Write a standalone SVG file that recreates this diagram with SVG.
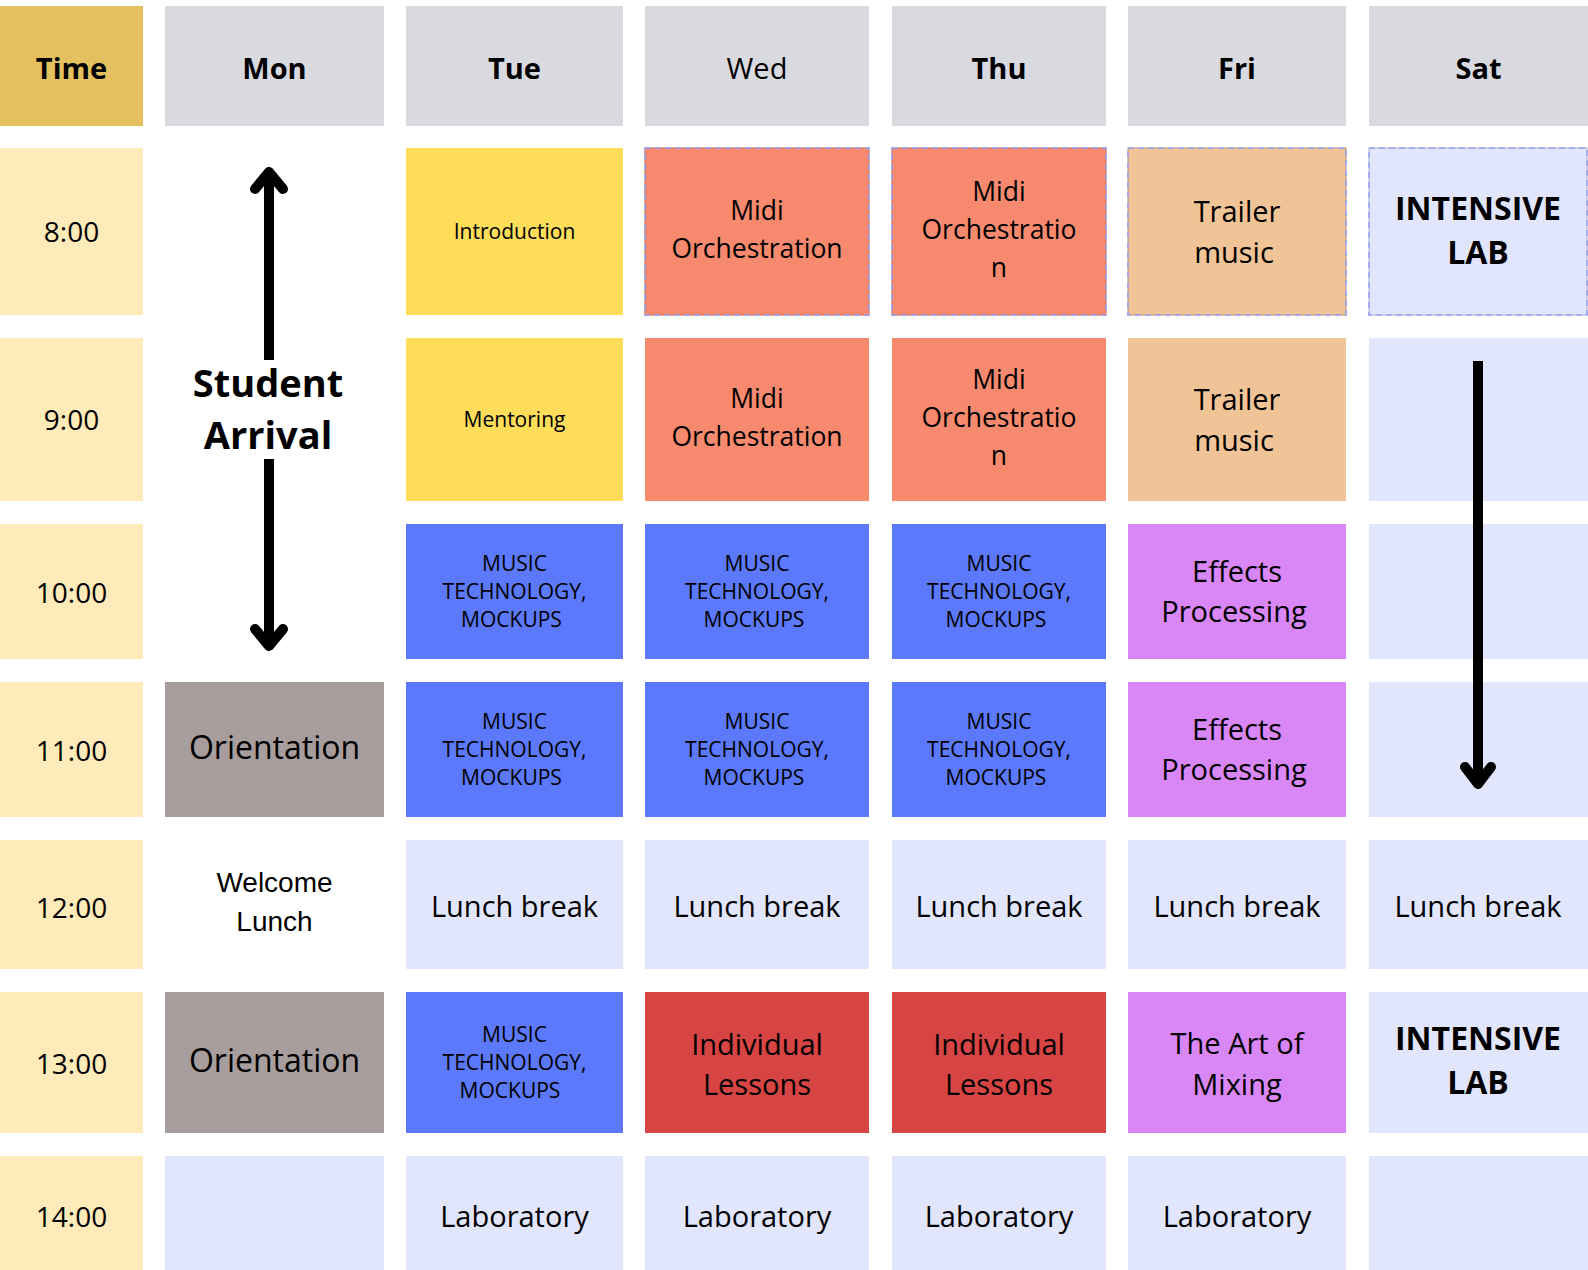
<svg xmlns="http://www.w3.org/2000/svg" width="1588" height="1270" viewBox="0 0 1588 1270">
<style>
text{font-family:"Open Sans","Noto Sans","DejaVu Sans",sans-serif;fill:#000;text-anchor:middle}
.h{font-size:29px;font-weight:700}
.hr{font-size:29px;font-weight:400}
.t{font-size:28px}
.s{font-size:21px}
.m{font-size:26.5px}
.l{font-size:29px}
.o{font-size:32px}
.b{font-size:32px;font-weight:700}
.sa{font-size:38px;font-weight:700}
.wl{font-family:"Liberation Sans",Arial,sans-serif;font-size:28px}
.thd{fill:#E4C15E}
.dhd{fill:#D9DAE0}
.tim{fill:#FFEBB9}
.yel{fill:#FFDD59}
.sal{fill:#F78A6E}
.tra{fill:#F0C496}
.lav{fill:#E1E6FD}
.blu{fill:#5B79FA}
.pur{fill:#D987F7}
.gry{fill:#A79D9C}
.red{fill:#D74444}
.dash{fill:none;stroke:#98A4F8;stroke-width:1.6;stroke-dasharray:6 4}
.arr{fill:none;stroke:#000;stroke-width:10}
</style>

<!-- header row -->
<g id="h-time"><rect class="thd" x="0" y="6" width="143" height="120"/><text class="h" x="71.5" y="79">Time</text></g>
<g id="h-mon"><rect class="dhd" x="165" y="6" width="219" height="120"/><text class="h" x="274.5" y="79">Mon</text></g>
<g id="h-tue"><rect class="dhd" x="406" y="6" width="217" height="120"/><text class="h" x="514.5" y="79">Tue</text></g>
<g id="h-wed"><rect class="dhd" x="645" y="6" width="224" height="120"/><text class="hr" x="757" y="79">Wed</text></g>
<g id="h-thu"><rect class="dhd" x="892" y="6" width="214" height="120"/><text class="h" x="999" y="79">Thu</text></g>
<g id="h-fri"><rect class="dhd" x="1128" y="6" width="218" height="120"/><text class="h" x="1237" y="79">Fri</text></g>
<g id="h-sat"><rect class="dhd" x="1369" y="6" width="219" height="120"/><text class="h" x="1478.5" y="79">Sat</text></g>

<!-- time column -->
<g id="t-8"><rect class="tim" x="0" y="148" width="143" height="167"/><text class="t" x="71.5" y="242">8:00</text></g>
<g id="t-9"><rect class="tim" x="0" y="338" width="143" height="163"/><text class="t" x="71.5" y="430">9:00</text></g>
<g id="t-10"><rect class="tim" x="0" y="524" width="143" height="135"/><text class="t" x="71.5" y="603">10:00</text></g>
<g id="t-11"><rect class="tim" x="0" y="682" width="143" height="135"/><text class="t" x="71.5" y="761">11:00</text></g>
<g id="t-12"><rect class="tim" x="0" y="840" width="143" height="129"/><text class="t" x="71.5" y="918">12:00</text></g>
<g id="t-13"><rect class="tim" x="0" y="992" width="143" height="141"/><text class="t" x="71.5" y="1074">13:00</text></g>
<g id="t-14"><rect class="tim" x="0" y="1156" width="143" height="130"/><text class="t" x="71.5" y="1227">14:00</text></g>

<!-- Monday -->
<g id="mon-arrival"><text class="sa" x="268" y="397">Student</text><text class="sa" x="268" y="449">Arrival</text></g>
<g id="mon-11"><rect class="gry" x="165" y="682" width="219" height="135"/><text class="o" x="274.5" y="759">Orientation</text></g>
<g id="mon-12"><text class="wl" x="274.5" y="892">Welcome</text><text class="wl" x="274.5" y="931">Lunch</text></g>
<g id="mon-13"><rect class="gry" x="165" y="992" width="219" height="141"/><text class="o" x="274.5" y="1072">Orientation</text></g>
<g id="mon-14"><rect class="lav" x="165" y="1156" width="219" height="130"/></g>

<!-- Tuesday -->
<g id="tue-8"><rect class="yel" x="406" y="148" width="217" height="167"/><text class="s" x="514.5" y="239">Introduction</text></g>
<g id="tue-9"><rect class="yel" x="406" y="338" width="217" height="163"/><text class="s" x="514.5" y="427">Mentoring</text></g>
<g id="tue-10"><rect class="blu" x="406" y="524" width="217" height="135"/><text class="s" x="514.5" y="571">MUSIC</text><text class="s" x="514.5" y="599">TECHNOLOGY,</text><text class="s" x="511.5" y="627">MOCKUPS</text></g>
<g id="tue-11"><rect class="blu" x="406" y="682" width="217" height="135"/><text class="s" x="514.5" y="729">MUSIC</text><text class="s" x="514.5" y="757">TECHNOLOGY,</text><text class="s" x="511.5" y="785">MOCKUPS</text></g>
<g id="tue-12"><rect class="lav" x="406" y="840" width="217" height="129"/><text class="l" x="514.5" y="917">Lunch break</text></g>
<g id="tue-13"><rect class="blu" x="406" y="992" width="217" height="141"/><text class="s" x="514.5" y="1042">MUSIC</text><text class="s" x="514.5" y="1070">TECHNOLOGY,</text><text class="s" x="510" y="1098">MOCKUPS</text></g>
<g id="tue-14"><rect class="lav" x="406" y="1156" width="217" height="130"/><text class="l" x="514.5" y="1227">Laboratory</text></g>

<!-- Wednesday -->
<g id="wed-8"><rect class="sal" x="645" y="148" width="224" height="167" stroke="#C8654F" stroke-width="1"/><rect class="dash" x="645" y="148" width="224" height="167"/><text class="m" x="757" y="220">Midi</text><text class="m" x="757" y="258">Orchestration</text></g>
<g id="wed-9"><rect class="sal" x="645" y="338" width="224" height="163"/><text class="m" x="757" y="408">Midi</text><text class="m" x="757" y="446">Orchestration</text></g>
<g id="wed-10"><rect class="blu" x="645" y="524" width="224" height="135"/><text class="s" x="757" y="571">MUSIC</text><text class="s" x="757" y="599">TECHNOLOGY,</text><text class="s" x="754" y="627">MOCKUPS</text></g>
<g id="wed-11"><rect class="blu" x="645" y="682" width="224" height="135"/><text class="s" x="757" y="729">MUSIC</text><text class="s" x="757" y="757">TECHNOLOGY,</text><text class="s" x="754" y="785">MOCKUPS</text></g>
<g id="wed-12"><rect class="lav" x="645" y="840" width="224" height="129"/><text class="l" x="757" y="917">Lunch break</text></g>
<g id="wed-13"><rect class="red" x="645" y="992" width="224" height="141"/><text class="l" x="757" y="1055">Individual</text><text class="l" x="757" y="1095">Lessons</text></g>
<g id="wed-14"><rect class="lav" x="645" y="1156" width="224" height="130"/><text class="l" x="757" y="1227">Laboratory</text></g>

<!-- Thursday -->
<g id="thu-8"><rect class="sal" x="892" y="148" width="214" height="167" stroke="#C8654F" stroke-width="1"/><rect class="dash" x="892" y="148" width="214" height="167"/><text class="m" x="999" y="201">Midi</text><text class="m" x="999" y="239">Orchestratio</text><text class="m" x="999" y="277">n</text></g>
<g id="thu-9"><rect class="sal" x="892" y="338" width="214" height="163"/><text class="m" x="999" y="389">Midi</text><text class="m" x="999" y="427">Orchestratio</text><text class="m" x="999" y="465">n</text></g>
<g id="thu-10"><rect class="blu" x="892" y="524" width="214" height="135"/><text class="s" x="999" y="571">MUSIC</text><text class="s" x="999" y="599">TECHNOLOGY,</text><text class="s" x="996" y="627">MOCKUPS</text></g>
<g id="thu-11"><rect class="blu" x="892" y="682" width="214" height="135"/><text class="s" x="999" y="729">MUSIC</text><text class="s" x="999" y="757">TECHNOLOGY,</text><text class="s" x="996" y="785">MOCKUPS</text></g>
<g id="thu-12"><rect class="lav" x="892" y="840" width="214" height="129"/><text class="l" x="999" y="917">Lunch break</text></g>
<g id="thu-13"><rect class="red" x="892" y="992" width="214" height="141"/><text class="l" x="999" y="1055">Individual</text><text class="l" x="999" y="1095">Lessons</text></g>
<g id="thu-14"><rect class="lav" x="892" y="1156" width="214" height="130"/><text class="l" x="999" y="1227">Laboratory</text></g>

<!-- Friday -->
<g id="fri-8"><rect class="tra" x="1128" y="148" width="218" height="167" stroke="#B8906C" stroke-width="1"/><rect class="dash" x="1128" y="148" width="218" height="167"/><text class="l" x="1237" y="222">Trailer</text><text class="l" x="1234" y="263">music</text></g>
<g id="fri-9"><rect class="tra" x="1128" y="338" width="218" height="163"/><text class="l" x="1237" y="410">Trailer</text><text class="l" x="1234" y="451">music</text></g>
<g id="fri-10"><rect class="pur" x="1128" y="524" width="218" height="135"/><text class="l" x="1237" y="582">Effects</text><text class="l" x="1234" y="622">Processing</text></g>
<g id="fri-11"><rect class="pur" x="1128" y="682" width="218" height="135"/><text class="l" x="1237" y="740">Effects</text><text class="l" x="1234" y="780">Processing</text></g>
<g id="fri-12"><rect class="lav" x="1128" y="840" width="218" height="129"/><text class="l" x="1237" y="917">Lunch break</text></g>
<g id="fri-13"><rect class="pur" x="1128" y="992" width="218" height="141"/><text class="l" x="1237" y="1054">The Art of</text><text class="l" x="1237" y="1095">Mixing</text></g>
<g id="fri-14"><rect class="lav" x="1128" y="1156" width="218" height="130"/><text class="l" x="1237" y="1227">Laboratory</text></g>

<!-- Saturday -->
<g id="sat-8"><rect class="lav" x="1369" y="148" width="218" height="167" stroke="#A9AECB" stroke-width="1"/><rect class="dash" x="1369" y="148" width="218" height="167"/><text class="b" x="1478" y="220">INTENSIVE</text><text class="b" x="1478" y="264">LAB</text></g>
<g id="sat-9"><rect class="lav" x="1369" y="338" width="219" height="163"/></g>
<g id="sat-10"><rect class="lav" x="1369" y="524" width="219" height="135"/></g>
<g id="sat-11"><rect class="lav" x="1369" y="682" width="219" height="135"/></g>
<g id="sat-12"><rect class="lav" x="1369" y="840" width="219" height="129"/><text class="l" x="1478" y="917">Lunch break</text></g>
<g id="sat-13"><rect class="lav" x="1369" y="992" width="219" height="141"/><text class="b" x="1478" y="1050">INTENSIVE</text><text class="b" x="1478" y="1094">LAB</text></g>
<g id="sat-14"><rect class="lav" x="1369" y="1156" width="219" height="130"/></g>

<!-- connectors -->
<g id="connectors">
<path class="arr" d="M269 360 V174" stroke-linecap="butt"/>
<path class="arr" d="M255 189 L269 172 L283 189" stroke-linecap="round" stroke-linejoin="round"/>
<path class="arr" d="M269 459 V644" stroke-linecap="butt"/>
<path class="arr" d="M255 629 L269 646 L283 629" stroke-linecap="round" stroke-linejoin="round"/>
<path class="arr" d="M1478 361 V782" stroke-linecap="butt"/>
<path class="arr" d="M1465 767 L1478 784 L1491 767" stroke-linecap="round" stroke-linejoin="round"/>
</g>
</svg>
